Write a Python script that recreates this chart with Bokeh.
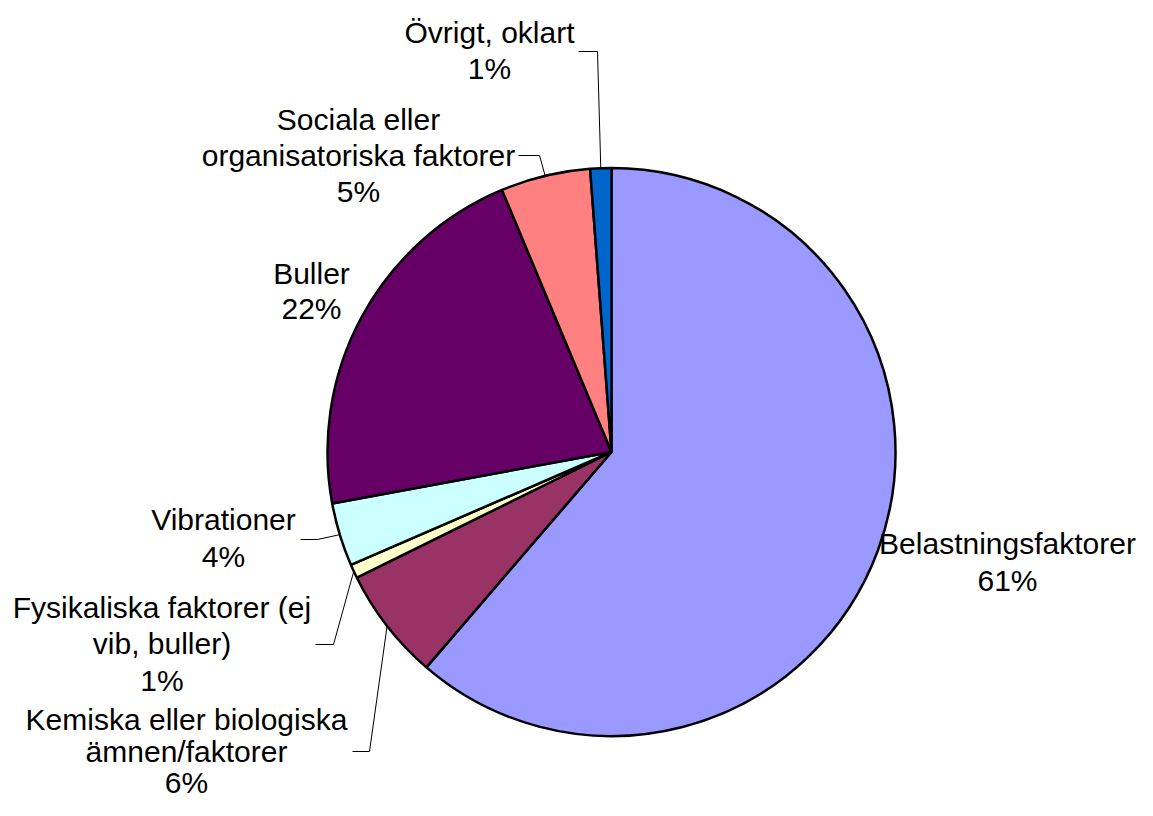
import math
from bokeh.plotting import figure
from bokeh.models import ColumnDataSource, Range1d
from bokeh.core.properties import value
from bokeh.embed import file_html
from bokeh.resources import INLINE

# ---------------- data ----------------
categories = ["Belastningsfaktorer",
              "Kemiska eller biologiska ämnen/faktorer",
              "Fysikaliska faktorer (ej vib, buller)",
              "Vibrationer",
              "Buller",
              "Sociala eller organisatoriska faktorer",
              "Övrigt, oklart"]
label_lines = [["Belastningsfaktorer"],
               ["Kemiska eller biologiska", "ämnen/faktorer"],
               ["Fysikaliska faktorer (ej", "vib, buller)"],
               ["Vibrationer"],
               ["Buller"],
               ["Sociala eller", "organisatoriska faktorer"],
               ["Övrigt, oklart"]]
values = [61.3, 6.4, 0.8, 3.6, 21.6, 5.1, 1.2]
colors = ["#9999FF", "#993366", "#FFFFCC", "#CCFFFF", "#660066", "#FF8080", "#0066CC"]

# ---------------- layout (picture pixel coordinates) ----------------
W, H = 1137, 800
CX, CY, R = 611, 451.5, 284
FONT = value("Liberation Sans")
FS = "30px"
TEXT_SHIFT = 10  # rendered baseline sits this much lower than the anchor
# label anchor: (center x, first baseline y, line spacing)
label_pos = [(1007, 553.3, 36.7),
             (186, 729.0, 31.5),
             (161.5, 616.7, 36.7),
             (223, 529.3, 36.7),
             (311, 282.7, 35.6),
             (358, 129.3, 36.0),
             (489, 41.7, 36.6)]
# leader elbows before reaching the slice edge
leader_pts = [None,
              [(352, 751), (369, 751)],
              [(315, 644), (333, 644)],
              [(300, 539), (317, 539)],
              None,
              [(518, 155), (539, 155)],
              [(578, 51), (597, 51)]]


def dy(py):
    return 816 - py


p = figure(width=W, height=H, x_range=Range1d(0, W), y_range=Range1d(816 - H, 816),
           output_backend="svg", toolbar_location=None, min_border=0,
           x_axis_location=None, y_axis_location=None, outline_line_color=None,
           background_fill_color="white", border_fill_color="white")
p.grid.visible = False

total = sum(values)
starts, ends, mids = [], [], []
acc = 0.0
for v in values:
    a0 = acc / total
    acc += v
    a1 = acc / total
    starts.append(math.pi / 2 - 2 * math.pi * a0)
    ends.append(math.pi / 2 - 2 * math.pi * a1)
    mids.append(math.pi / 2 - 2 * math.pi * (a0 + a1) / 2)

# leader lines
for i, pts in enumerate(leader_pts):
    if pts is None:
        continue
    ex = CX + R * math.cos(mids[i])
    ey = dy(CY) + R * math.sin(mids[i])
    xs = [q[0] for q in pts] + [ex]
    ys = [dy(q[1]) for q in pts] + [ey]
    p.line(xs, ys, line_color="#000000", line_width=1)

src = ColumnDataSource(dict(start=starts, end=ends, color=colors, cat=categories,
                            x=[CX] * len(values), y=[dy(CY)] * len(values)))
p.wedge(x="x", y="y", radius=R, start_angle="start", end_angle="end",
        direction="clock", fill_color="color", line_color="black",
        line_width=2.5, source=src)

# labels
tx, ty, tt = [], [], []
for i, lines in enumerate(label_lines):
    x0, y0, sp = label_pos[i]
    all_lines = lines + [f"{round(values[i])}%"]
    for k, s in enumerate(all_lines):
        tx.append(x0)
        ty.append(dy(y0 + k * sp - TEXT_SHIFT))
        tt.append(s)
p.text(x=tx, y=ty, text=tt, text_font=FONT, text_font_size=FS,
       text_align="center", text_baseline="alphabetic", text_color="black")

open("out.html", "w").write(file_html(p, INLINE))
